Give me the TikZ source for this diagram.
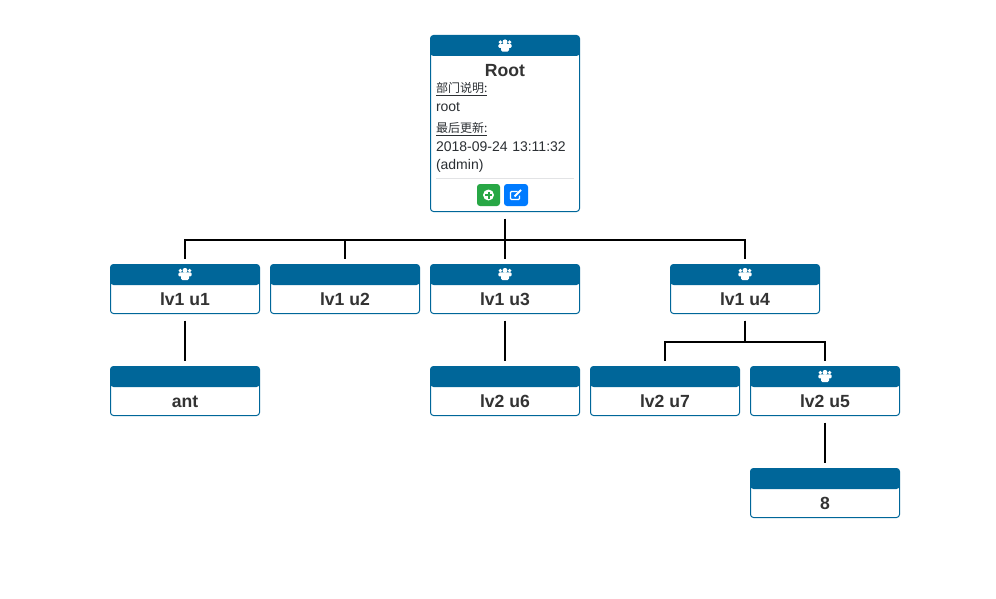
\documentclass[tikz,border=0pt]{standalone}
\usepackage{fontspec}
\setmainfont{Liberation Sans}
\newfontfamily\cjk{Noto Sans CJK SC}
\usetikzlibrary{positioning}
\definecolor{barblue}{HTML}{006699}
\definecolor{titlegray}{HTML}{333333}
\definecolor{bodygray}{HTML}{2B2F33}
\definecolor{addgreen}{HTML}{28A745}
\definecolor{editblue}{HTML}{007BFF}
\definecolor{rulegray}{HTML}{E2E3E5}
\begin{document}
\begin{tikzpicture}[x=1pt,y=1pt,on grid,
card/.style={draw=barblue,line width=1pt,fill=white,rounded corners=3pt,outer sep=0pt,
  minimum width=149pt,minimum height=49pt,inner sep=0pt,
  path picture={\fill[barblue] (path picture bounding box.north west) rectangle
  ([yshift=-20.5pt]path picture bounding box.north east);}},
cardname/.style={text=titlegray,inner sep=0pt,font=\fontsize{17.6}{20}\selectfont\bfseries},
usersicon/.style={minimum size=15pt,inner sep=0pt,path picture={
  \begin{scope}[shift={(path picture bounding box.center)}]
  \fill[white] (-4.6,3.4) circle (1.9);
  \fill[white] (4.6,3.4) circle (1.9);
  \fill[white] (0,3.6) circle (2.5);
  \fill[white,rounded corners=1.2pt] (-6.6,-2.4) rectangle (6.6,1.6);
  \fill[white,rounded corners=1.5pt] (-4,-6.2) rectangle (4,1);
  \end{scope}}},
detail/.style={text=bodygray,inner sep=0pt,text width=138pt,align=left,
  text height=10pt,text depth=3pt,font=\fontsize{14}{16}\selectfont},
cjklabel/.style={detail,font=\fontsize{12}{16}\selectfont\cjk},
btn/.style={rounded corners=3pt,inner sep=0pt,minimum height=22pt},
wire/.style={draw=black,line width=2pt,shorten <=7pt,shorten >=5.5pt}]
\useasboundingbox (0,0) rectangle (996,-599);
% top card
\node[card,minimum height=176pt] (root) at (505,-123.5) {};
\node[usersicon] (rooticon) [above = 78pt of root] {};
\node[cardname] (rootname) [above = 52.5pt of root] {Root};
\node[cjklabel] (dept) [above = 34.5pt of root] {\underline{部门说明:}};
\node[detail] (deptval) [below = 19pt of dept] {root};
\node[cjklabel] (upd) [below = 21pt of deptval] {\underline{最后更新:}};
\node[detail] (updval) [below = 19pt of upd] {2018-09-24 13:11:32};
\node[detail] (updby) [below = 18pt of updval] {(admin)};
\coordinate (ruleleft) at ([xshift=-69pt,yshift=-12.5pt]updby.center);
\coordinate (ruleright) at ([xshift=69pt,yshift=-12.5pt]updby.center);
\draw[rulegray,line width=1pt] (ruleleft) -- (ruleright);
\node[btn,fill=addgreen,minimum width=23pt] (addbtn) at (488.5,-195) {};
\node[btn,fill=editblue,minimum width=24pt] (editbtn) [right = 27.5pt of addbtn] {};
\fill[white] (addbtn) circle (5.5pt);
\fill[addgreen] ([xshift=-3.5pt,yshift=-1pt]addbtn.center) rectangle ([xshift=3.5pt,yshift=1pt]addbtn.center);
\fill[addgreen] ([xshift=-1pt,yshift=-3.5pt]addbtn.center) rectangle ([xshift=1pt,yshift=3.5pt]addbtn.center);
\draw[white,line width=1.2pt,rounded corners=1pt] ([xshift=1.5pt,yshift=3.5pt]editbtn.center) -- ([xshift=-5.5pt,yshift=3.5pt]editbtn.center)
  -- ([xshift=-5.5pt,yshift=-4.5pt]editbtn.center) -- ([xshift=3.5pt,yshift=-4.5pt]editbtn.center) -- ([xshift=3.5pt,yshift=-0.5pt]editbtn.center);
\draw[white,line width=2pt] ([xshift=-1.5pt,yshift=-1.5pt]editbtn.center) -- ([xshift=5pt,yshift=5pt]editbtn.center);
% first level
\node[card] (u3) [below = 165.5pt of root] {};
\node[card] (u1) [left = 320pt of u3] {};
\node[card] (u2) [left = 160pt of u3] {};
\node[card] (u4) [right = 240pt of u3] {};
\node[usersicon] (u1icon) [above = 15pt of u1] {};
\node[usersicon] (u3icon) [above = 15pt of u3] {};
\node[usersicon] (u4icon) [above = 15pt of u4] {};
\node[cardname] (u1name) [below = 10.5pt of u1] {lv1 u1};
\node[cardname] (u2name) [below = 10.5pt of u2] {lv1 u2};
\node[cardname] (u3name) [below = 10.5pt of u3] {lv1 u3};
\node[cardname] (u4name) [below = 10.5pt of u4] {lv1 u4};
% second level
\node[card] (ant) [below = 102pt of u1] {};
\node[card] (u6) [below = 102pt of u3] {};
\node[card] (u7) [below left = 102pt and 80pt of u4] {};
\node[card] (u5) [below right = 102pt and 80pt of u4] {};
\node[usersicon] (u5icon) [above = 15pt of u5] {};
\node[cardname] (antname) [below = 10.5pt of ant] {ant};
\node[cardname] (u6name) [below = 10.5pt of u6] {lv2 u6};
\node[cardname] (u7name) [below = 10.5pt of u7] {lv2 u7};
\node[cardname] (u5name) [below = 10.5pt of u5] {lv2 u5};
% third level
\node[card] (eight) [below = 102pt of u5] {};
\node[cardname] (eightname) [below = 10.5pt of eight] {8};
% connectors
\draw[wire] (root.south) ++(0,-0.5) -- ++(0,-27.5) -| (u1.north);
\draw[wire] (root.south) ++(0,-0.5) -- ++(0,-27.5) -| (u2.north);
\draw[wire] (root.south) -- (u3.north);
\draw[wire] (root.south) ++(0,-0.5) -- ++(0,-27.5) -| (u4.north);
\draw[wire] (u1.south) -- (ant.north);
\draw[wire] (u3.south) -- (u6.north);
\draw[wire] (u4.south) -- ++(0,-28) -| (u7.north);
\draw[wire] (u4.south) -- ++(0,-28) -| (u5.north);
\draw[wire] (u5.south) -- (eight.north);
\end{tikzpicture}
\end{document}
